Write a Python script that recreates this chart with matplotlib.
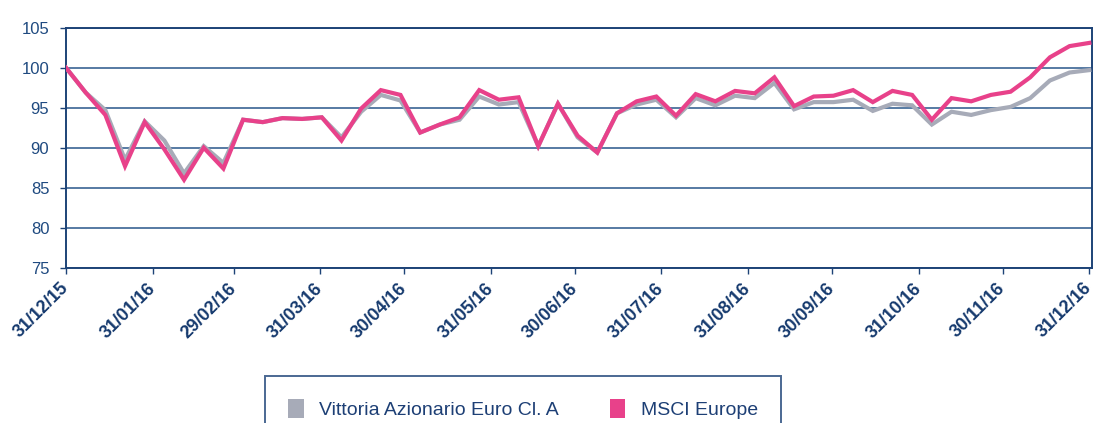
import matplotlib
matplotlib.use("Agg")
import matplotlib.pyplot as plt
import matplotlib.dates as mdates
from matplotlib.patches import Patch
import pandas as pd

# weekly values, base 100 on 31/12/15
vittoria = [100, 96.9, 94.7, 88.5, 93.3, 90.9, 86.8, 90.2, 88.1, 93.5,
            93.2, 93.7, 93.6, 93.8, 91.3, 94.5, 96.6, 95.9, 91.9, 92.9,
            93.5, 96.4, 95.4, 95.7, 90.2, 95.5, 91.3, 89.4, 94.3, 95.4,
            96.0, 93.8, 96.2, 95.3, 96.5, 96.2, 98.1, 94.8, 95.7, 95.7,
            96.0, 94.6, 95.5, 95.3, 92.9, 94.5, 94.1, 94.7, 95.1, 96.2,
            98.4, 99.4, 99.7]
msci = [100, 96.9, 94.1, 87.7, 93.2, 89.8, 86.0, 90.0, 87.4, 93.5,
        93.2, 93.7, 93.6, 93.8, 90.9, 94.9, 97.2, 96.6, 91.9, 92.9,
        93.8, 97.2, 96.0, 96.3, 90.2, 95.5, 91.5, 89.4, 94.3, 95.8,
        96.4, 94.0, 96.7, 95.8, 97.1, 96.8, 98.8, 95.2, 96.4, 96.5,
        97.2, 95.7, 97.1, 96.6, 93.5, 96.2, 95.8, 96.6, 97.0, 98.8,
        101.3, 102.7, 103.1]
dates = pd.date_range("2015-12-31", "2016-12-31", periods=len(msci))
month_ends = pd.date_range("2015-12-31", "2016-12-31", freq="ME")
y_ticks = [75, 80, 85, 90, 95, 100, 105]

navy = "#1d4377"
grid_col = "#3a6394"
grey = "#a7abb8"
pink = "#e8418a"

fig = plt.figure(figsize=(10.96, 4.23), dpi=100)
ax = fig.add_axes([0.0602, 0.367, 0.9362, 0.5675])

ax.plot(dates, vittoria, color=grey, lw=3.0, solid_joinstyle="miter", zorder=3)
ax.plot(dates, msci, color=pink, lw=3.0, solid_joinstyle="miter", zorder=4)

ax.set_ylim(75, 105)
ax.set_yticks(y_ticks)
ax.set_xlim(pd.Timestamp("2015-12-31"), pd.Timestamp("2017-01-01"))
ax.set_xticks(month_ends)
ax.xaxis.set_major_formatter(mdates.DateFormatter("%d/%m/%y"))

ax.grid(axis="y", color=grid_col, lw=1.2)
ax.set_axisbelow(True)
for s in ax.spines.values():
    s.set_color(navy)
    s.set_linewidth(1.4)

ax.tick_params(axis="y", direction="out", length=4, width=1, color=navy,
               labelcolor="#1f4a80", labelsize=12, pad=8)
ax.tick_params(axis="x", direction="out", length=4, width=1, color=navy,
               labelcolor="#163a6e", pad=9)
for lbl in ax.get_yticklabels():
    lbl.set_family("Liberation Sans")
for lbl in ax.get_xticklabels():
    lbl.set_family("Liberation Sans")
    lbl.set_fontweight("bold")
    lbl.set_fontsize(13)
    lbl.set_rotation(45)
    lbl.set_ha("right")
    lbl.set_va("center")
    lbl.set_rotation_mode("anchor")

handles = [Patch(facecolor=grey, edgecolor="none"),
           Patch(facecolor=pink, edgecolor="none")]
leg = fig.legend(handles, ["Vittoria Azionario Euro Cl. A", "MSCI Europe"],
                 loc="upper left", bbox_to_anchor=(265 / 1096, 1 - 376 / 423),
                 ncol=2, frameon=True, fancybox=False, edgecolor=navy,
                 prop={"family": "Liberation Sans", "size": 14},
                 handlelength=0.8, handleheight=1.1, handletextpad=0.8,
                 columnspacing=2.6, borderpad=1.2, borderaxespad=0)
leg.get_frame().set_linewidth(1.4)
for t in leg.get_texts():
    t.set_color("#1d3f75")

fig.savefig("out.png", dpi=100)
